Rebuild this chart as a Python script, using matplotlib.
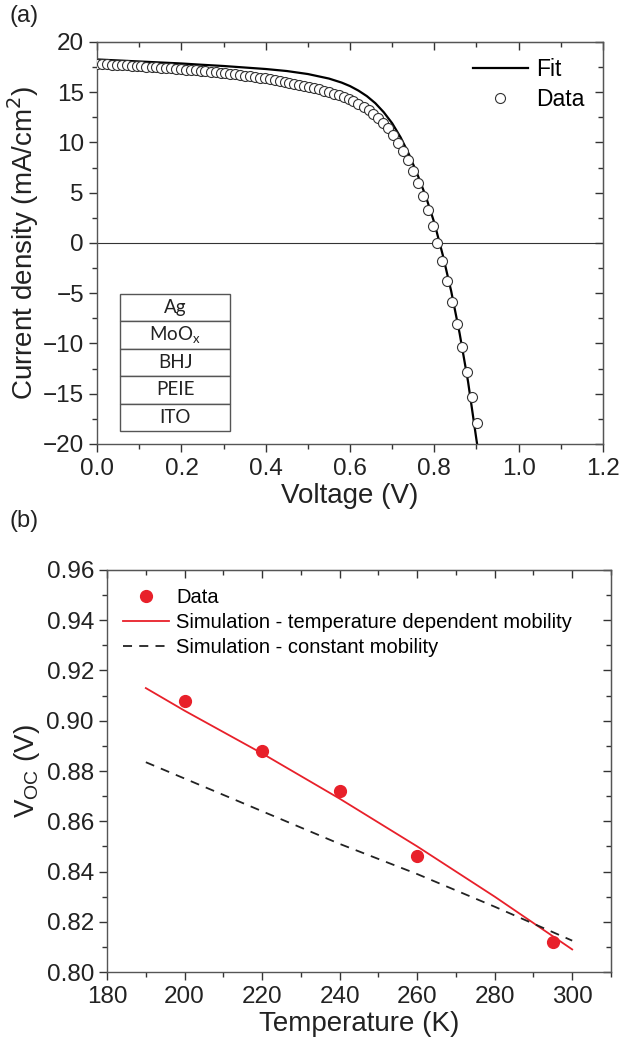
import numpy as np
import matplotlib
matplotlib.use('Agg')
import matplotlib.pyplot as plt
from matplotlib.ticker import MultipleLocator, FormatStrFormatter
from matplotlib.patches import Rectangle

plt.rcParams['font.family'] = ['Liberation Sans', 'DejaVu Sans']

# (a) J-V curve
data_v = [0.000, 0.012, 0.023, 0.035, 0.047, 0.059, 0.070, 0.082, 0.094, 0.105,
          0.117, 0.129, 0.140, 0.152, 0.164, 0.176, 0.187, 0.199, 0.211, 0.222,
          0.234, 0.246, 0.257, 0.269, 0.281, 0.293, 0.304, 0.316, 0.328, 0.339,
          0.351, 0.363, 0.374, 0.386, 0.398, 0.410, 0.421, 0.433, 0.445, 0.456,
          0.468, 0.480, 0.491, 0.503, 0.515, 0.527, 0.538, 0.550, 0.562, 0.573,
          0.585, 0.597, 0.608, 0.620, 0.632, 0.644, 0.655, 0.667, 0.679, 0.690,
          0.702, 0.714, 0.725, 0.737, 0.749, 0.761, 0.772, 0.784, 0.796, 0.807,
          0.819, 0.831, 0.842, 0.854, 0.866, 0.877, 0.889, 0.901]
data_j = [17.80, 17.78, 17.76, 17.73, 17.71, 17.69, 17.66, 17.64, 17.62, 17.60,
          17.55, 17.52, 17.48, 17.45, 17.41, 17.38, 17.34, 17.30, 17.25, 17.21,
          17.16, 17.12, 17.07, 17.02, 16.97, 16.92, 16.88, 16.82, 16.76, 16.70,
          16.63, 16.57, 16.50, 16.43, 16.36, 16.27, 16.18, 16.09, 16.00, 15.90,
          15.80, 15.70, 15.60, 15.52, 15.41, 15.28, 15.14, 15.00, 14.83, 14.67,
          14.50, 14.33, 14.15, 13.85, 13.55, 13.20, 12.80, 12.40, 11.90, 11.40,
          10.70, 9.90, 9.10, 8.20, 7.20, 6.00, 4.70, 3.30, 1.70, 0.00,
          -1.80, -3.80, -5.90, -8.10, -10.40, -12.80, -15.30, -17.90]

fit_v = [0.00, 0.05, 0.10, 0.15, 0.20, 0.25, 0.30, 0.35, 0.40, 0.45, 0.50, 0.55,
         0.58, 0.60, 0.62, 0.64, 0.66, 0.68, 0.70, 0.72, 0.74, 0.76, 0.78, 0.80,
         0.82, 0.84, 0.86, 0.88, 0.90, 0.9015]
fit_j = [18.25, 18.15, 18.05, 17.95, 17.85, 17.72, 17.60, 17.45, 17.30, 17.10, 16.80, 16.35,
         15.95, 15.60, 15.15, 14.60, 13.90, 13.00, 11.90, 10.50, 8.80, 6.80, 4.60, 2.00,
         -1.20, -4.80, -9.00, -13.80, -19.60, -20.00]

layers = ['Ag', 'MoO$_\\mathregular{x}$', 'BHJ', 'PEIE', 'ITO']

# (b) Voc vs temperature
temp_data = [200, 220, 240, 260, 295]
voc_data = [0.908, 0.888, 0.872, 0.846, 0.812]
temp_sim = [190, 200, 220, 240, 260, 280, 300]
voc_sim_tdep = [0.913, 0.904, 0.887, 0.869, 0.850, 0.830, 0.809]
temp_const = [190, 220, 240, 260, 280, 300]
voc_sim_const = [0.8835, 0.864, 0.851, 0.839, 0.826, 0.8125]

red = '#e8202a'
tick_fs = 17.5
label_fs = 20


def style_axis(ax, xmaj, xmin, ymaj, ymin):
    ax.xaxis.set_major_locator(MultipleLocator(xmaj))
    ax.xaxis.set_minor_locator(MultipleLocator(xmin))
    ax.yaxis.set_major_locator(MultipleLocator(ymaj))
    ax.yaxis.set_minor_locator(MultipleLocator(ymin))
    ax.tick_params(which='major', direction='out', length=6, width=1, labelsize=tick_fs,
                   colors='#333333', labelcolor='#222222')
    ax.tick_params(which='minor', direction='out', length=3.5, width=1, colors='#333333')
    ax.tick_params(axis='x', which='major', pad=4)
    for s in ax.spines.values():
        s.set_color('#555555')
        s.set_linewidth(1)
    top = ax.secondary_xaxis('top')
    top.xaxis.set_major_locator(MultipleLocator(xmaj))
    top.xaxis.set_minor_locator(MultipleLocator(xmin))
    top.tick_params(which='major', direction='in', length=6, width=1, labeltop=False, colors='#333333')
    top.tick_params(which='minor', direction='in', length=3.5, width=1, colors='#333333')
    top.spines['top'].set_color('#555555')
    right = ax.secondary_yaxis('right')
    right.yaxis.set_major_locator(MultipleLocator(ymaj))
    right.yaxis.set_minor_locator(MultipleLocator(ymin))
    right.tick_params(which='major', direction='in', length=6, width=1, labelright=False, colors='#333333')
    right.tick_params(which='minor', direction='in', length=3.5, width=1, colors='#333333')
    right.spines['right'].set_color('#555555')


fig = plt.figure(figsize=(6.19, 10.47), dpi=100)

# panel (a)
ax1 = fig.add_axes([0.157, 0.576, 0.817, 0.384])
ax1.axhline(0, color='#333333', lw=0.8, zorder=1)
ax1.plot(fit_v, fit_j, color='black', lw=1.6, label='Fit', zorder=2)
ax1.plot(data_v, data_j, 'o', ms=7.2, mfc='white', mec='#333333', mew=0.8, label='Data', zorder=3)
ax1.set_xlim(0, 1.2)
ax1.set_ylim(-20, 20)
style_axis(ax1, 0.2, 0.1, 5, 2.5)
ax1.set_xlabel('Voltage (V)', fontsize=label_fs, labelpad=2, color='#222222')
ax1.set_ylabel('Current density (mA/cm$^2$)', fontsize=label_fs, labelpad=1, color='#222222')
ax1.legend(loc='upper right', bbox_to_anchor=(0.995, 1.0), frameon=False, fontsize=16.5,
           handlelength=2.4, handletextpad=0.35, labelspacing=0.3, borderaxespad=0.3)

# layer stack inset
box_x0, box_x1 = 0.055, 0.315
box_top, row_h = -5.07, 2.73
for i, name in enumerate(layers):
    y0 = box_top - (i + 1) * row_h
    ax1.add_patch(Rectangle((box_x0, y0), box_x1 - box_x0, row_h, facecolor='white',
                            edgecolor='#555555', lw=1, zorder=4))
    ax1.text((box_x0 + box_x1) / 2, y0 + row_h / 2, name, ha='center', va='center',
             fontsize=13.5, family=['Lato', 'DejaVu Sans'], color='#222222', zorder=5)

# panel (b)
ax2 = fig.add_axes([0.173, 0.0716, 0.814, 0.384])
ax2.plot(temp_data, voc_data, 'o', color=red, ms=8.5, label='Data', zorder=3)
ax2.plot(temp_sim, voc_sim_tdep, color=red, lw=1.3,
         label='Simulation - temperature dependent mobility', zorder=2)
ax2.plot(temp_const, voc_sim_const, color='#222222', lw=1.3, dashes=(5, 4),
         label='Simulation - constant mobility', zorder=2)
ax2.set_xlim(180, 310)
ax2.set_ylim(0.80, 0.96)
style_axis(ax2, 20, 10, 0.02, 0.01)
ax2.set_xticks([180, 200, 220, 240, 260, 280, 300])
ax2.yaxis.set_major_formatter(FormatStrFormatter('%.2f'))
ax2.set_xlabel('Temperature (K)', fontsize=label_fs, labelpad=2, color='#222222')
ax2.set_ylabel('V$_\\mathregular{OC}$ (V)', fontsize=label_fs, labelpad=3, color='#222222')
ax2.legend(loc='upper left', bbox_to_anchor=(-0.005, 1.0), frameon=False, fontsize=14.5,
           handlelength=2.3, handletextpad=0.35, labelspacing=0.3, borderaxespad=0.5)

fig.text(0.016, 0.985, '(a)', fontsize=17, va='center', color='#222222')
fig.text(0.016, 0.502, '(b)', fontsize=17, va='center', color='#222222')

fig.savefig('out.png', dpi=100)
